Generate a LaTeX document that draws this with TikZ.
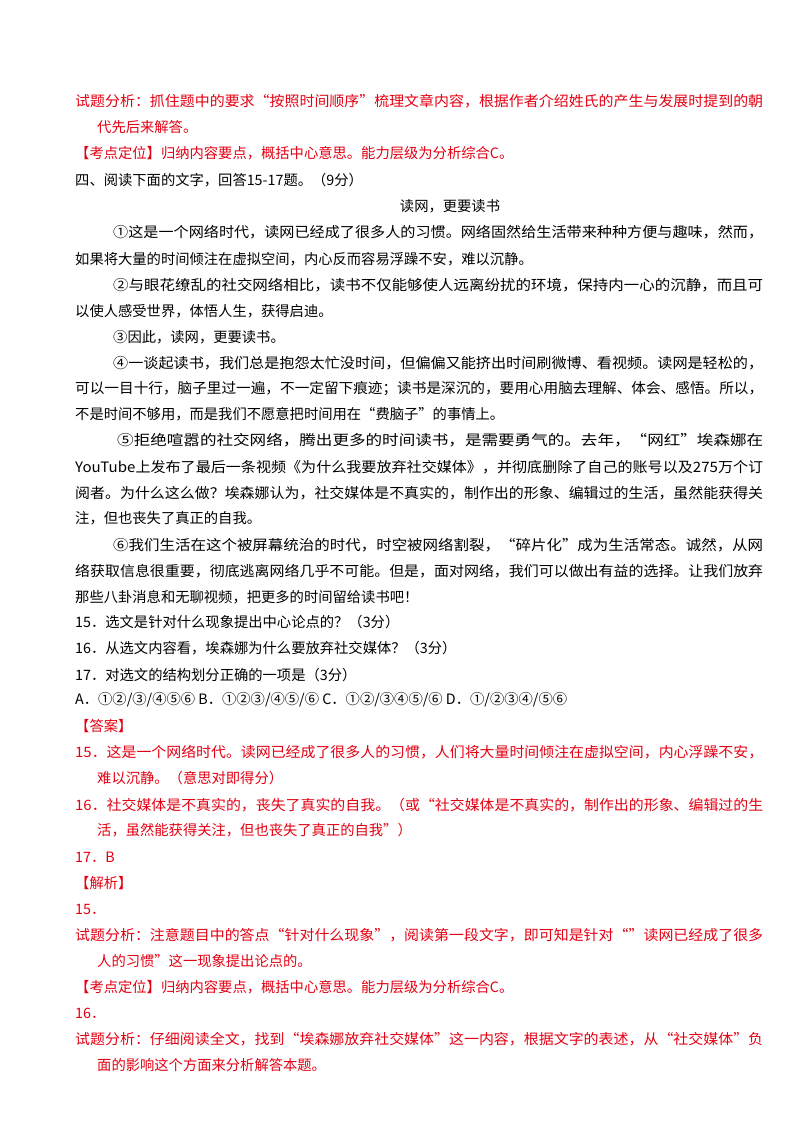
\documentclass[tikz,border=0pt]{standalone}
\usepackage{fontspec}
\usepackage{graphicx}
\setmainfont{Noto Sans CJK SC}
\definecolor{ared}{RGB}{228,0,18}
\newsavebox\jbox
\newcommand{\Lt}[3]{\node[anchor=west,inner sep=0pt] at (#1,#2) {#3};}
\newcommand{\Jt}[3]{\node[anchor=west,inner sep=0pt] at (#1,#2) {\sbox\jbox{#3}\pgfmathsetmacro{\sx}{(763-#1)/(\wd\jbox)}\scalebox{\sx}[1]{\usebox\jbox}};}
\begin{document}
\begin{tikzpicture}[x=1pt,y=-1pt,font=\fontsize{14.3}{16}\selectfont]
\useasboundingbox (0,0) rectangle (800,1132);
\begin{scope}[color=ared]
\Jt{75}{101}{试题分析：抓住题中的要求“按照时间顺序”梳理文章内容，根据作者介绍姓氏的产生与发展时提到的朝}
\Lt{97}{127}{代先后来解答。}
\Lt{75}{153}{【考点定位】归纳内容要点，概括中心意思。能力层级为分析综合C。}
\end{scope}
\Lt{75}{180}{四、阅读下面的文字，回答15-17题。（9分）}
\node[inner sep=0pt] (title) at (450,206) {读网，更要读书};
\Jt{113}{232}{①这是一个网络时代，读网已经成了很多人的习惯。网络固然给生活带来种种方便与趣味，然而，}
\Lt{75}{259}{如果将大量的时间倾注在虚拟空间，内心反而容易浮躁不安，难以沉静。}
\Jt{113}{285}{②与眼花缭乱的社交网络相比，读书不仅能够使人远离纷扰的环境，保持内一心的沉静，而且可}
\Lt{75}{311}{以使人感受世界，体悟人生，获得启迪。}
\Lt{113}{337}{③因此，读网，更要读书。}
\Jt{113}{363}{④一谈起读书，我们总是抱怨太忙没时间，但偏偏又能挤出时间刷微博、看视频。读网是轻松的，}
\Jt{75}{389}{可以一目十行，脑子里过一遍，不一定留下痕迹；读书是深沉的，要用心用脑去理解、体会、感悟。所以，}
\Lt{75}{414}{不是时间不够用，而是我们不愿意把时间用在“费脑子”的事情上。}
\Jt{117}{440}{⑤拒绝喧嚣的社交网络，腾出更多的时间读书，是需要勇气的。去年，“网红”埃森娜在}
\Jt{75}{467}{YouTube上发布了最后一条视频《为什么我要放弃社交媒体》，并彻底删除了自己的账号以及275万个订}
\Jt{75}{493}{阅者。为什么这么做？埃森娜认为，社交媒体是不真实的，制作出的形象、编辑过的生活，虽然能获得关}
\Lt{75}{518}{注，但也丧失了真正的自我。}
\Jt{113}{545}{⑥我们生活在这个被屏幕统治的时代，时空被网络割裂，“碎片化”成为生活常态。诚然，从网}
\Jt{75}{571}{络获取信息很重要，彻底逃离网络几乎不可能。但是，面对网络，我们可以做出有益的选择。让我们放弃}
\Lt{75}{597}{那些八卦消息和无聊视频，把更多的时间留给读书吧！}
\Lt{75}{622}{15．选文是针对什么现象提出中心论点的？（3分）}
\Lt{75}{648}{16．从选文内容看，埃森娜为什么要放弃社交媒体？（3分）}
\Lt{75}{675}{17．对选文的结构划分正确的一项是（3分）}
\Lt{75}{700}{A．①②/③/④⑤⑥ B．①②③/④⑤/⑥ C．①②/③④⑤/⑥ D．①/②③④/⑤⑥}
\begin{scope}[color=ared]
\Lt{75}{726}{【答案】}
\Jt{75}{752}{15．这是一个网络时代。读网已经成了很多人的习惯，人们将大量时间倾注在虚拟空间，内心浮躁不安，}
\Lt{97}{778}{难以沉静。（意思对即得分）}
\Jt{75}{805}{16．社交媒体是不真实的，丧失了真实的自我。（或“社交媒体是不真实的，制作出的形象、编辑过的生}
\Lt{97}{830}{活，虽然能获得关注，但也丧失了真正的自我”）}
\Lt{75}{857}{17．B}
\Lt{75}{883}{【解析】}
\Lt{75}{909}{15．}
\Jt{75}{935}{试题分析：注意题目中的答点“针对什么现象”，阅读第一段文字，即可知是针对“”读网已经成了很多}
\Lt{97}{961}{人的习惯”这一现象提出论点的。}
\Lt{75}{987}{【考点定位】归纳内容要点，概括中心意思。能力层级为分析综合C。}
\Lt{75}{1013}{16．}
\Jt{75}{1039}{试题分析：仔细阅读全文，找到“埃森娜放弃社交媒体”这一内容，根据文字的表述，从“社交媒体”负}
\Lt{97}{1065}{面的影响这个方面来分析解答本题。}
\end{scope}
\end{tikzpicture}
\end{document}
